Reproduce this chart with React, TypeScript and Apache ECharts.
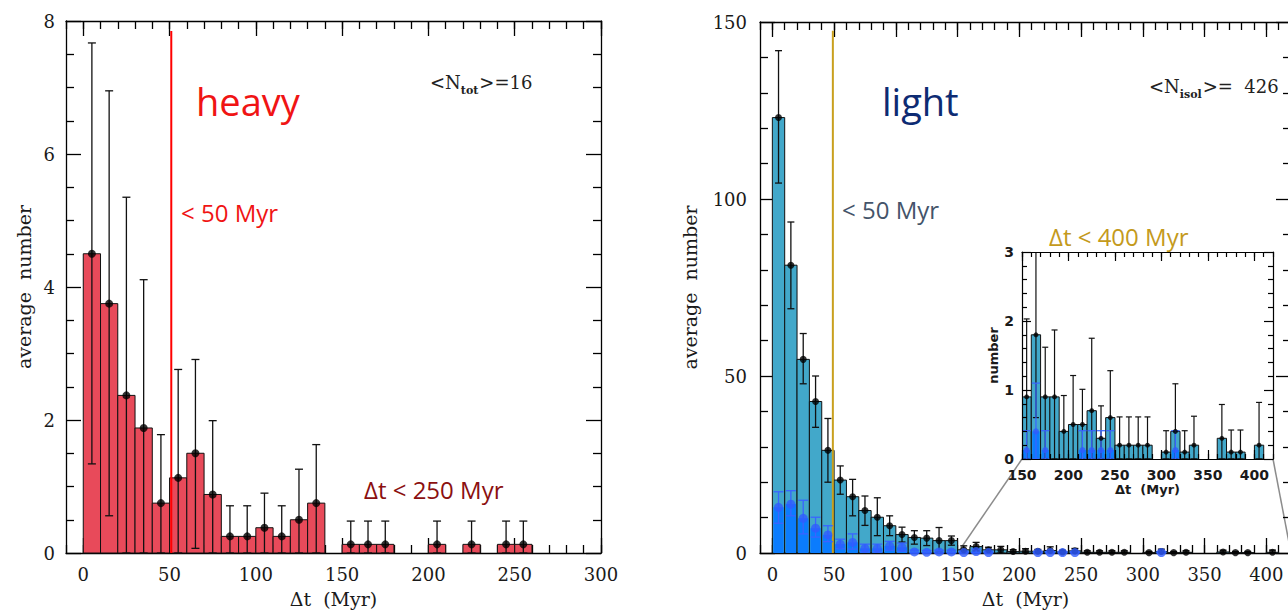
import React, { useEffect, useRef } from 'react';
import * as echarts from 'echarts';

const SERIF = '"DejaVu Serif", serif';
const CALLOUT = '"Open Sans", "Noto Sans", sans-serif';
const INSET_FONT = '"DejaVu Sans", sans-serif';
const BIN = 10;

// ---- heavy seeds: 10 Myr bins ----
const heavyBinStart = [0, 10, 20, 30, 40, 50, 60, 70, 80, 90, 100, 110, 120, 130, 140, 150, 160, 170, 180, 190, 200, 210, 220, 230, 240, 250];
const heavyCounts = [4.5, 3.75, 2.37, 1.88, 0.75, 1.13, 1.5, 0.88, 0.25, 0.25, 0.38, 0.25, 0.5, 0.75, null, 0.13, 0.13, 0.13, null, null, 0.13, null, 0.13, null, 0.13, 0.13];
const heavyErrHigh = [7.67, 6.95, 5.35, 4.11, 1.78, 2.76, 2.91, 1.99, 0.71, 0.71, 0.9, 0.71, 1.26, 1.63, null, 0.48, 0.48, 0.48, null, null, 0.48, null, 0.48, null, 0.48, 0.48];
const heavyErrLow = [1.34, 0.56, 0, 0, 0, 0, 0.07, 0, 0, 0, 0, 0, 0, 0, null, 0, 0, 0, null, null, 0, null, 0, null, 0, 0];
const heavyTicks = [0, 50, 100, 150, 200, 250, 300];
const heavyCutoff = [[51, 0, 7.85]];

// ---- light seeds: 10 Myr bins ----
const lightBinStart = [0, 10, 20, 30, 40, 50, 60, 70, 80, 90, 100, 110, 120, 130, 140, 150, 160, 170, 180, 190, 200, 210, 220, 230, 240, 250, 260, 270, 280, 290, 300, 310, 320, 330, 340, 350, 360, 370, 380, 390, 400];
const lightCounts = [123, 81.3, 54.7, 42.8, 29, 20.6, 15.9, 12.0, 10.1, 7.7, 5.2, 4.4, 4.2, 3.5, 3.5, 0.9, 1.8, 0.9, 0.9, 0.4, 0.5, 0.5, 0.7, 0.3, 0.6, 0.2, 0.2, 0.2, 0.2, null, 0.1, 0.4, 0.1, 0.2, null, null, 0.3, 0.1, 0.1, null, 0.2];
const lightErrHigh = [141.9, 93.5, 62, 50, 38, 24.6, 20.8, 16.1, 15.6, 10.5, 7.3, 6.3, 6.3, 7.2, 4.8, 2.03, 3.0, 1.62, 1.87, 0.92, 1.21, 1.01, 1.75, 0.77, 1.28, 0.61, 0.61, 0.61, 0.61, null, 0.41, 1.09, 0.41, 0.62, null, null, 0.79, 0.42, 0.42, null, 0.82];
const lightErrLow = [104.5, 69, 47.8, 35.5, 20, 16.6, 10.5, 7.8, 4.9, 4.9, 3.1, 2.5, 2.1, 0.2, 2.2, 0, 0.6, 0, 0, 0, 0, 0, 0, 0, 0, 0, 0, 0, 0, null, 0, 0, 0, 0, null, null, 0, 0, 0, null, 0];
const isolCounts = [12.9, 13.8, 9.8, 7.0, 5.1, 2.5, 3.0, 1.3, 1.3, 2.0, 1.6, 0.3, 0.2, 0.3, 0.3, 0.13, 0.4, 0.13, null, null, null, 0.13, 0.13, 0.13, 0.13, null, null, null, null, null, null, 0.13, null, null, null, null, null, null, null, null, null];
const isolErrHigh = [17.3, 17.6, 14.9, 10.1, 7.7, 3.9, 5.4, 2.5, 2.5, 3.3, 2.8, 0.8, 0.7, 0.8, 0.8, 0.41, 1.1, 0.41, null, null, null, 0.41, 0.41, 0.41, 0.41, null, null, null, null, null, null, 0.41, null, null, null, null, null, null, null, null, null];
const isolErrLow = [8.4, 10.5, 5.4, 4.5, 3.2, 1.2, 1.1, 0.3, 0.3, 0.8, 0.5, 0, 0, 0, 0, 0, 0, 0, null, null, null, 0, 0, 0, 0, null, null, null, null, null, null, 0, null, null, null, null, null, null, null, null, null];
const lightTicks = [0, 50, 100, 150, 200, 250, 300, 350, 400];
const lightCutoff = [[49, 0, 147.5]];
const insetTicks = [150, 200, 250, 300, 350, 400];
const insetFrom = 150;

const RED = '#e84a5a';
const CYAN = '#42a8ca';
const BLUE_FILL = '#0b7cfd';
const BLUE_DOT = '#2f5bff';

type Num = number | null;

function barRows(starts: number[], vals: Num[], from = -Infinity) {
  const rows: number[][] = [];
  starts.forEach((s, i) => {
    const v = vals[i];
    if (v != null && s >= from) rows.push([s, s + BIN, v]);
  });
  return rows;
}
function errRows(starts: number[], lo: Num[], hi: Num[], from = -Infinity) {
  const rows: number[][] = [];
  starts.forEach((s, i) => {
    const a = lo[i];
    const b = hi[i];
    if (a != null && b != null && s >= from) rows.push([s + BIN / 2, a, b]);
  });
  return rows;
}
function pointRows(starts: number[], vals: Num[], from = -Infinity) {
  const rows: number[][] = [];
  starts.forEach((s, i) => {
    const v = vals[i];
    if (v != null && s >= from) rows.push([s + BIN / 2, v]);
  });
  return rows;
}

const rectItem = (fill: string, stroke: string | null, lineWidth: number, shrink: number) =>
  (_p: any, api: any) => {
    const a = api.coord([api.value(0), 0]);
    const b = api.coord([api.value(1), api.value(2)]);
    return {
      type: 'rect',
      shape: { x: a[0] + shrink, y: b[1], width: b[0] - a[0] - 2 * shrink, height: a[1] - b[1] },
      style: { fill, stroke, lineWidth },
    };
  };

const errItem = (color: string, lineWidth: number, capPx: number, capData = 0) =>
  (_p: any, api: any) => {
    const x = api.value(0);
    const lo = api.coord([x, api.value(1)]);
    const hi = api.coord([x, api.value(2)]);
    const cap = capData ? api.size([capData, 0])[0] : capPx;
    const st = { stroke: color, lineWidth };
    return {
      type: 'group',
      children: [
        { type: 'line', shape: { x1: hi[0], y1: hi[1], x2: lo[0], y2: lo[1] }, style: st },
        { type: 'line', shape: { x1: hi[0] - cap, y1: hi[1], x2: hi[0] + cap, y2: hi[1] }, style: st },
        { type: 'line', shape: { x1: lo[0] - cap, y1: lo[1], x2: lo[0] + cap, y2: lo[1] }, style: st },
      ],
    };
  };

const vlineItem = (color: string, lineWidth: number) => (_p: any, api: any) => {
  const a = api.coord([api.value(0), api.value(1)]);
  const b = api.coord([api.value(0), api.value(2)]);
  return { type: 'line', shape: { x1: a[0], y1: a[1], x2: b[0], y2: b[1] }, style: { stroke: color, lineWidth } };
};

interface AxisLook {
  major: number;
  minor: number;
  lw: number;
  margin: number;
  label: any;
  name: string;
  nameGap: number;
  nameStyle: any;
  z: number;
}

function xAxes(gridIndex: number, min: number, max: number, majors: number[], o: AxisLook) {
  const line = { show: true, onZero: false, lineStyle: { color: '#000', width: o.lw } };
  const tickStyle = { color: '#000', width: o.lw };
  const base = { type: 'value', gridIndex, min, max, splitLine: { show: false }, z: o.z };
  const majorTick = { show: true, inside: true, length: o.major, customValues: majors, lineStyle: tickStyle };
  const minorTick = { show: true, inside: true, length: o.minor, lineStyle: tickStyle };
  return [
    {
      ...base, position: 'bottom', axisLine: line, axisTick: majorTick,
      axisLabel: { show: true, customValues: majors, margin: o.margin, ...o.label },
      name: o.name, nameLocation: 'middle', nameGap: o.nameGap, nameTextStyle: o.nameStyle,
    },
    { ...base, position: 'bottom', interval: BIN, axisLine: { show: false, onZero: false }, axisTick: minorTick, axisLabel: { show: false } },
    { ...base, position: 'top', axisLine: line, axisTick: majorTick, axisLabel: { show: false } },
    { ...base, position: 'top', interval: BIN, axisLine: { show: false, onZero: false }, axisTick: minorTick, axisLabel: { show: false } },
  ];
}

function yAxes(gridIndex: number, max: number, interval: number, split: number, o: AxisLook) {
  const line = { show: true, onZero: false, lineStyle: { color: '#000', width: o.lw } };
  const tickStyle = { color: '#000', width: o.lw };
  const base = {
    type: 'value', gridIndex, min: 0, max, interval, z: o.z,
    axisLine: line,
    axisTick: { show: true, inside: true, length: o.major, lineStyle: tickStyle },
    minorTick: { show: true, splitNumber: split, length: o.minor, lineStyle: tickStyle },
    splitLine: { show: false },
    minorSplitLine: { show: false },
  };
  return [
    {
      ...base, position: 'left',
      axisLabel: { show: true, margin: o.margin, ...o.label },
      name: o.name, nameLocation: 'middle', nameGap: o.nameGap, nameRotate: 90, nameTextStyle: o.nameStyle,
    },
    { ...base, position: 'right', axisLabel: { show: false } },
  ];
}

const mainLabel = { fontFamily: SERIF, fontSize: 18, color: '#1a1a1a' };
const mainName = { fontFamily: SERIF, fontSize: 19, color: '#1a1a1a' };
const insetLabel = { fontFamily: INSET_FONT, fontSize: 14, fontWeight: 'bold', color: '#1a1a1a' };
const insetName = { fontFamily: INSET_FONT, fontSize: 13, fontWeight: 'bold', color: '#1a1a1a' };

function buildOption(): any {
  const heavyX = { major: 15, minor: 8, lw: 1.3, margin: 12, label: mainLabel, name: 'Δt  (Myr)', nameGap: 36, nameStyle: mainName, z: 0 };
  const heavyY = { major: 15, minor: 8, lw: 1.3, margin: 11, label: mainLabel, name: 'average  number', nameGap: 33, nameStyle: mainName, z: 0 };
  const lightY = { ...heavyY, margin: 13, nameGap: 61 };
  const insetX = { major: 9, minor: 5, lw: 1.2, margin: 9, label: insetLabel, name: 'Δt  (Myr)', nameGap: 23, nameStyle: insetName, z: 6 };
  const insetY = { ...insetX, margin: 8, name: 'number', nameGap: 22 };

  const inset = { xAxisIndex: 8, yAxisIndex: 4, clip: true };
  const main = { xAxisIndex: 4, yAxisIndex: 2 };

  return {
    animation: false,
    backgroundColor: '#ffffff',
    grid: [
      { left: 66, top: 21, width: 535, height: 533 },
      { left: 760, top: 22, width: 531, height: 532 },
      { left: 1022, top: 252, width: 251, height: 207 },
    ],
    xAxis: [
      ...xAxes(0, -10, 300, heavyTicks, heavyX),
      ...xAxes(1, -10, 420, lightTicks, heavyX),
      ...xAxes(2, insetFrom, 420, insetTicks, insetX),
    ],
    yAxis: [
      ...yAxes(0, 8, 2, 4, heavyY),
      ...yAxes(1, 150, 50, 5, lightY),
      ...yAxes(2, 3, 1, 5, insetY),
    ],
    series: [
      // heavy panel
      { type: 'custom', name: 'heavy bars', xAxisIndex: 0, yAxisIndex: 0, data: barRows(heavyBinStart, heavyCounts), renderItem: rectItem(RED, '#111', 1, 0) },
      { type: 'custom', name: 'heavy cut', xAxisIndex: 0, yAxisIndex: 0, data: heavyCutoff, renderItem: vlineItem('#ff0000', 2) },
      { type: 'custom', name: 'heavy errors', xAxisIndex: 0, yAxisIndex: 0, data: errRows(heavyBinStart, heavyErrLow, heavyErrHigh), renderItem: errItem('#111', 1.3, 4) },
      { type: 'scatter', name: 'heavy mean', xAxisIndex: 0, yAxisIndex: 0, symbolSize: 8, itemStyle: { color: '#000' }, data: pointRows(heavyBinStart, heavyCounts) },

      // light panel
      { type: 'custom', name: 'light bars', ...main, data: barRows(lightBinStart, lightCounts), renderItem: rectItem(CYAN, '#111', 1, 0) },
      { type: 'custom', name: 'isolated bars', ...main, data: barRows(lightBinStart, isolCounts), renderItem: rectItem(BLUE_FILL, null, 0, 1) },
      { type: 'custom', name: 'light cut', ...main, data: lightCutoff, renderItem: vlineItem('#c9a01e', 2) },
      { type: 'custom', name: 'light errors', ...main, data: errRows(lightBinStart, lightErrLow, lightErrHigh), renderItem: errItem('#111', 1.3, 3.5) },
      { type: 'scatter', name: 'light mean', ...main, symbolSize: 7, itemStyle: { color: '#000' }, data: pointRows(lightBinStart, lightCounts) },
      { type: 'custom', name: 'isolated errors', ...main, data: errRows(lightBinStart, isolErrLow, isolErrHigh), renderItem: errItem('#3a64ff', 1.3, 0, 4) },
      { type: 'scatter', name: 'isolated mean', ...main, symbolSize: 9, itemStyle: { color: BLUE_DOT }, data: pointRows(lightBinStart, isolCounts) },

      // inset (tail of the light distribution)
      {
        type: 'custom', name: 'inset backdrop', xAxisIndex: 8, yAxisIndex: 4, z: 3, data: [[insetFrom, 0]],
        renderItem: (p: any) => ({ type: 'rect', shape: { x: p.coordSys.x, y: p.coordSys.y, width: p.coordSys.width, height: p.coordSys.height }, style: { fill: '#fff' } }),
      },
      { type: 'custom', name: 'inset bars', ...inset, z: 4, data: barRows(lightBinStart, lightCounts, insetFrom), renderItem: rectItem(CYAN, '#111', 1, 0) },
      { type: 'custom', name: 'inset isolated bars', ...inset, z: 4, data: barRows(lightBinStart, isolCounts, insetFrom), renderItem: rectItem(BLUE_FILL, null, 0, 1) },
      { type: 'custom', name: 'inset errors', ...inset, z: 4, data: errRows(lightBinStart, lightErrLow, lightErrHigh, insetFrom), renderItem: errItem('#111', 1.2, 3) },
      { type: 'scatter', name: 'inset mean', ...inset, z: 4, symbolSize: 5, itemStyle: { color: '#000' }, data: pointRows(lightBinStart, lightCounts, insetFrom) },
      { type: 'custom', name: 'inset isolated errors', ...inset, z: 4, data: errRows(lightBinStart, isolErrLow, isolErrHigh, insetFrom), renderItem: errItem('#3a64ff', 1.2, 0, 4.5) },
      { type: 'scatter', name: 'inset isolated mean', ...inset, z: 4, symbolSize: 6, itemStyle: { color: BLUE_DOT }, data: pointRows(lightBinStart, isolCounts, insetFrom) },
    ],
  };
}

function textWidth(text: string, font: string) {
  const ctx = document.createElement('canvas').getContext('2d');
  if (!ctx) return text.length * 10;
  ctx.font = font;
  return ctx.measureText(text).width;
}

// "<N_sub>= value" written with a lowered, smaller subscript
function meanLabel(x: number, y: number, sub: string, tail: string) {
  const big = 18;
  const small = 11;
  const w1 = textWidth('<N', `${big}px "DejaVu Serif"`);
  const w2 = textWidth(sub, `bold ${small}px "DejaVu Serif"`);
  const bigStyle = { fontFamily: SERIF, fontSize: big, fill: '#222', verticalAlign: 'middle', align: 'left' };
  return [
    { type: 'text', x, y, style: { ...bigStyle, text: '<N' } },
    { type: 'text', x: x + w1, y: y + 8, style: { fontFamily: SERIF, fontSize: small, fontWeight: 'bold', fill: '#222', verticalAlign: 'middle', align: 'left', text: sub } },
    { type: 'text', x: x + w1 + w2 + 1, y, style: { ...bigStyle, text: tail } },
  ];
}

function callout(x: number, y: number, text: string, fill: string, fontSize: number) {
  return { type: 'text', x, y, style: { text, fill, fontSize, fontFamily: CALLOUT, verticalAlign: 'middle', align: 'left' } };
}

function buildGraphic(chart: any) {
  const m1 = chart.convertToPixel({ xAxisIndex: 4, yAxisIndex: 2 }, [insetFrom, 0]);
  const i1 = chart.convertToPixel({ xAxisIndex: 8, yAxisIndex: 4 }, [insetFrom, 0]);
  const m2 = chart.convertToPixel({ xAxisIndex: 4, yAxisIndex: 2 }, [420, 0]);
  const i2 = chart.convertToPixel({ xAxisIndex: 8, yAxisIndex: 4 }, [420, 0]);
  const connector = { stroke: '#8c8c8c', lineWidth: 1.5 };
  return [
    callout(196, 101, 'heavy', '#f01414', 38),
    callout(181, 212, '< 50 Myr', '#f01414', 24),
    callout(364, 489, 'Δt < 250 Myr', '#8b1010', 24),
    ...meanLabel(430, 82, 'tot', '>=16'),
    callout(882, 101, 'light', '#0d2b73', 38),
    callout(842, 209, '< 50 Myr', '#44546a', 24),
    callout(1049, 236, 'Δt < 400 Myr', '#c49a1c', 24),
    ...meanLabel(1149, 86, 'isol', '>=  426'),
    { type: 'line', shape: { x1: m1[0], y1: m1[1], x2: i1[0], y2: i1[1] }, style: connector },
    { type: 'line', shape: { x1: m2[0], y1: m2[1], x2: i2[0], y2: i2[1] }, style: connector },
  ];
}

export default function App() {
  const ref = useRef<HTMLDivElement>(null);
  useEffect(() => {
    const el = ref.current;
    if (!el) return;
    const chart = echarts.init(el, undefined, { renderer: 'svg' });
    chart.setOption(buildOption());
    chart.setOption({ graphic: buildGraphic(chart) });
    return () => chart.dispose();
  }, []);
  return (
    <div
      ref={ref}
      style={{ position: 'fixed', left: 0, top: 0, width: 1292, height: 613, background: '#fff' }}
    />
  );
}
